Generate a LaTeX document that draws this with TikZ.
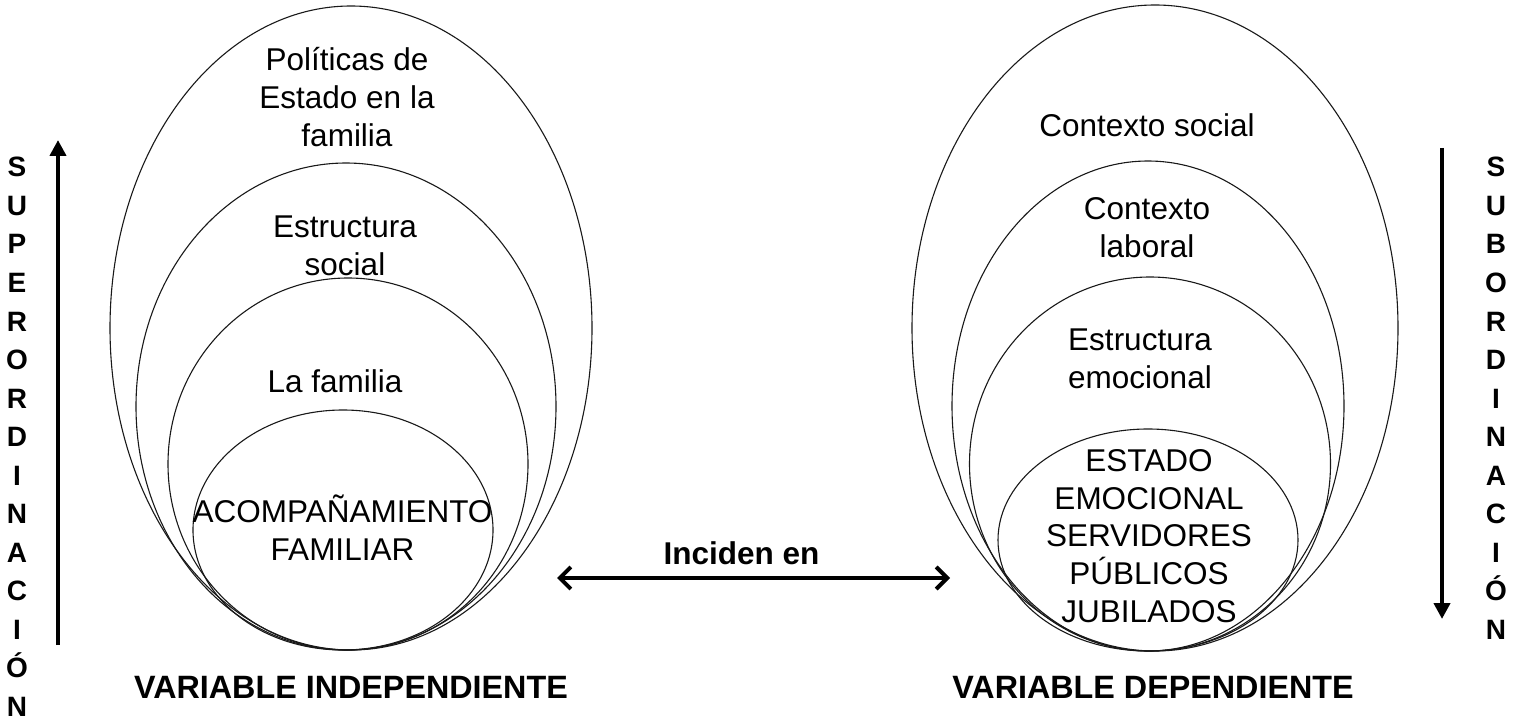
\documentclass[tikz,border=0pt]{standalone}
\usepackage{fontspec}
\setmainfont{Liberation Sans}
\usetikzlibrary{arrows.meta}
\tikzset{
  ring/.style={draw=black!90,line width=1.1pt},
  txt/.style={font=\fontsize{31.5}{37.8}\selectfont,align=center,inner sep=0pt},
  boldtxt/.style={font=\fontsize{31.5}{37.8}\selectfont\bfseries,inner sep=0pt,anchor=base},
  vartxt/.style={boldtxt,font=\fontsize{32.3}{38}\selectfont\bfseries},
  letter/.style={font=\fontsize{28}{30}\selectfont\bfseries,inner sep=0pt,anchor=base},
  vertarrow/.style={line width=4pt,-{Triangle[length=16pt,width=16pt]}},
  bothway/.style={line width=4pt,{Straight Barb[length=11pt,width=22pt]}-{Straight Barb[length=11pt,width=22pt]}}
}
\begin{document}
\begin{tikzpicture}[x=1pt,y=-1pt]
\useasboundingbox (0,0) rectangle (1513,719);
% variable independiente
\draw[ring] (351,328) ellipse [x radius=241pt,y radius=322pt];
\draw[ring] (346,406.5) ellipse [x radius=210pt,y radius=243.5pt];
\draw[ring] (348,464) ellipse [x radius=180pt,y radius=186pt];
\draw[ring] (343,530) ellipse [x radius=150pt,y radius=120pt];
\node[txt] (politicas) at (347,97) {Políticas de\\Estado en la\\familia};
\node[txt] (estsocial) at (345,246) {Estructura\\social};
\node[txt] (lafamilia) at (335,381) {La familia};
\node[txt] (acompana) at (342.5,528) {ACOMPAÑAMIENTO\\FAMILIAR};
\node[vartxt] (vindep) at (351,698) {VARIABLE INDEPENDIENTE};
% variable dependiente
\draw[ring] (1155,328) ellipse [x radius=243pt,y radius=323pt];
\draw[ring] (1148,406) ellipse [x radius=196pt,y radius=245pt];
\draw[ring] (1150,464) ellipse [x radius=180.5pt,y radius=187pt];
\draw[ring] (1148,540) ellipse [x radius=150pt,y radius=111pt];
\node[txt] (ctxsocial) at (1147,125) {Contexto social};
\node[txt] (ctxlaboral) at (1147,228) {Contexto\\laboral};
\node[txt] (estemocional) at (1140,359) {Estructura\\emocional};
\node[txt] (estado) at (1149,536) {ESTADO\\EMOCIONAL\\SERVIDORES\\PÚBLICOS\\JUBILADOS};
\node[vartxt] (vdep) at (1153,698) {VARIABLE DEPENDIENTE};
% inciden en
\coordinate (incleft) at (557,578);
\coordinate (incright) at (950,578);
\draw[bothway] (incleft) -- (incright);
\node[boldtxt] (inciden) at (741.5,564) {Inciden en};
% superordinacion / subordinacion
\coordinate (suptail) at (58,645);
\coordinate (suptip) at (58,140);
\draw[vertarrow] (suptail) -- (suptip);
\coordinate (subtail) at (1442,148);
\coordinate (subtip) at (1442,619);
\draw[vertarrow] (subtail) -- (subtip);
\foreach \l [count=\i from 0] in {S,U,P,E,R,O,R,D,I,N,A,C,I,Ó,N}
  \node[letter] (sup\i) at (17,{177+38.5*\i}) {\l};
\foreach \l [count=\i from 0] in {S,U,B,O,R,D,I,N,A,C,I,Ó,N}
  \node[letter] (sub\i) at (1496,{177+38.5*\i}) {\l};
\end{tikzpicture}
\end{document}
